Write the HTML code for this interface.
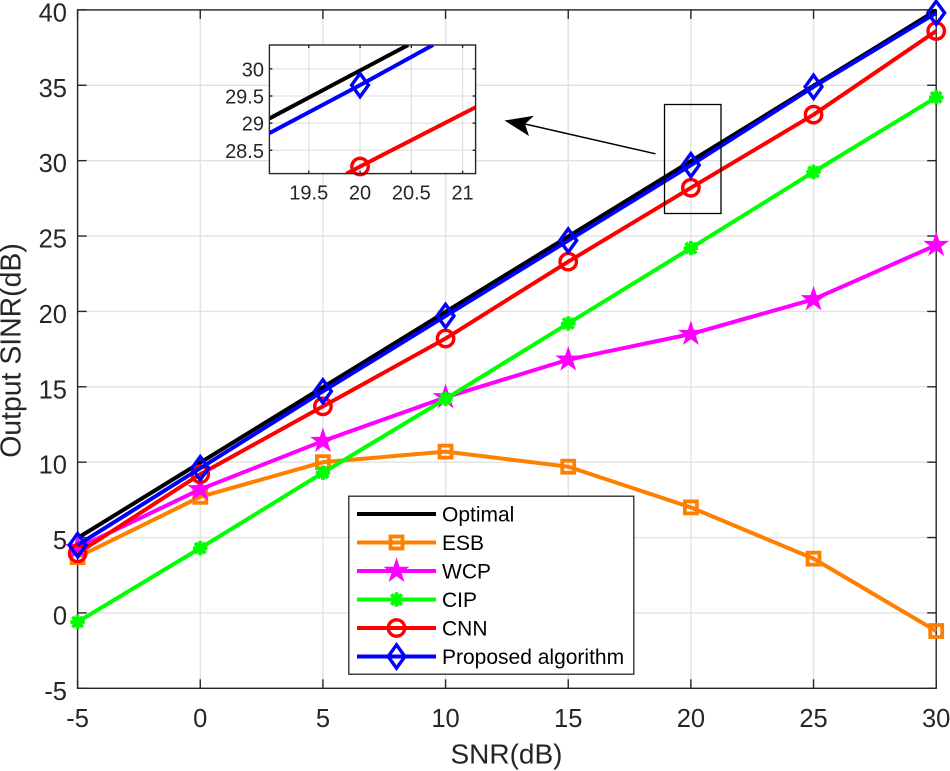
<!DOCTYPE html>
<html>
<head>
<meta charset="utf-8">
<title>Output SINR vs SNR</title>
<style>
html,body{margin:0;padding:0;background:#fff;width:950px;height:771px;overflow:hidden;}
svg{display:block;overflow:hidden;font-family:"Liberation Sans",sans-serif;}
</style>
</head>
<body>
<svg id="chart" width="950" height="771" viewBox="0 0 950 771" xmlns="http://www.w3.org/2000/svg"></svg>
<script>
const categories = [-5, 0, 5, 10, 15, 20, 25, 30];
const seriesNames = ['Optimal', 'ESB', 'WCP', 'CIP', 'CNN', 'Proposed algorithm'];
const optimalValues = [4.97, 9.97, 14.97, 19.97, 24.97, 29.97, 34.97, 39.97];
const esbValues = [3.7, 7.7, 10.0, 10.7, 9.7, 7.0, 3.6, -1.2];
const wcpValues = [4.3, 8.2, 11.4, 14.3, 16.8, 18.5, 20.8, 24.4];
const cipValues = [-0.6, 4.3, 9.3, 14.2, 19.2, 24.2, 29.25, 34.2];
const cnnValues = [3.95, 9.2, 13.7, 18.2, 23.3, 28.2, 33.05, 38.6];
const proposedValues = [4.5, 9.6, 14.7, 19.7, 24.7, 29.7, 34.9, 39.8];
const xTicks = ['-5', '0', '5', '10', '15', '20', '25', '30'];
const yTicks = ['-5', '0', '5', '10', '15', '20', '25', '30', '35', '40'];
const insetXTicks = ['19.5', '20', '20.5', '21'];
const insetYTicks = ['28.5', '29', '29.5', '30'];

const svg = document.getElementById('chart');
const NS = 'http://www.w3.org/2000/svg';
const INK = '#262626';
const GRID = '#e2e2e2';

function mk(tag, attrs, name, parent) {
  const el = document.createElementNS(NS, tag);
  for (const k in attrs) el.setAttribute(k, attrs[k]);
  
  
  (parent || svg).appendChild(el);
  return el;
}
function label(x, y, str, size, anchor, name, fill, parent) {
  const t = mk('text', {x: x, y: y, 'font-size': size, 'text-anchor': anchor, fill: fill || INK}, name, parent);
  t.textContent = str;
  return t;
}
function scale(d0, d1, r0, r1) {
  return v => r0 + (v - d0) * (r1 - r0) / (d1 - d0);
}

const L = 77.6, R = 936.2, T = 9.9, B = 688.3;
const sx = scale(-5, 30, L, R), sy = scale(-5, 40, B, T);
const IL = 269.4, IR = 475.6, IT = 45, IB = 173.6;
const ix = scale(19.116, 21.127, IL, IR), iy = scale(28.07, 30.44, IB, IT);

/* Liang-Barsky: trims a data segment to the inset window so no geometry extends outside it */
function clipToInset(x0, y0, x1, y1) {
  let t0 = 0, t1 = 1;
  const dx = x1 - x0, dy = y1 - y0;
  const tests = [[-dx, x0 - IL], [dx, IR - x0], [-dy, y0 - IT], [dy, IB - y0]];
  for (const [p, q] of tests) {
    if (p === 0) { if (q < 0) return null; continue; }
    const r = q / p;
    if (p < 0) { if (r > t1) return null; if (r > t0) t0 = r; }
    else { if (r < t0) return null; if (r < t1) t1 = r; }
  }
  return [x0 + t0 * dx, y0 + t0 * dy, x0 + t1 * dx, y0 + t1 * dy];
}

const styles = [
  {values: optimalValues, color: '#000000', marker: 'none', key: 'optimal'},
  {values: esbValues, color: '#ff8000', marker: 'square', key: 'esb'},
  {values: wcpValues, color: '#ff00ff', marker: 'star', key: 'wcp'},
  {values: cipValues, color: '#00ff00', marker: 'asterisk', key: 'cip'},
  {values: cnnValues, color: '#ff0000', marker: 'circle', key: 'cnn'},
  {values: proposedValues, color: '#0000ff', marker: 'diamond', key: 'proposed'}
];

function marker(kind, x, y, color, name, parent) {
  if (kind === 'square') {
    mk('rect', {x: x - 6, y: y - 6, width: 12, height: 12, fill: 'none', stroke: color, 'stroke-width': 3.8}, name, parent);
  } else if (kind === 'circle') {
    mk('circle', {cx: x, cy: y, r: 8.2, fill: 'none', stroke: color, 'stroke-width': 3.4}, name, parent);
  } else if (kind === 'diamond') {
    const w = 8.4, h = 11.6;
    mk('polygon', {points: [x, y - h, x + w, y, x, y + h, x - w, y].join(' '), fill: 'none', stroke: color, 'stroke-width': 3.4}, name, parent);
  } else if (kind === 'star') {
    const pts = [];
    for (let i = 0; i < 10; i++) {
      const r = i % 2 ? 5.2 : 13.6;
      const a = -Math.PI / 2 + i * Math.PI / 5;
      pts.push((x + r * Math.cos(a)).toFixed(2) + ',' + (y + r * Math.sin(a)).toFixed(2));
    }
    mk('polygon', {points: pts.join(' '), fill: color}, name, parent);
  } else if (kind === 'asterisk') {
    const r = 7.2, d = 5.2;
    const path = `M${x - r} ${y}H${x + r}M${x} ${y - r}V${y + r}M${x - d} ${y - d}L${x + d} ${y + d}M${x - d} ${y + d}L${x + d} ${y - d}`;
    mk('path', {d: path, fill: 'none', stroke: color, 'stroke-width': 3.8}, name, parent);
  }
}

/* main axes: grid */
const gridG = mk('g', {}, 'main-grid');
xTicks.forEach(t => {
  const x = sx(+t);
  mk('line', {x1: x, x2: x, y1: T, y2: B, stroke: GRID, 'stroke-width': 1.4}, 'x-gridline-' + t, gridG);
});
yTicks.forEach(t => {
  const y = sy(+t);
  mk('line', {x1: L, x2: R, y1: y, y2: y, stroke: GRID, 'stroke-width': 1.4}, 'y-gridline-' + t, gridG);
});

/* main axes: box, ticks, labels */
const axG = mk('g', {stroke: INK, 'stroke-width': 1.4, fill: 'none'}, 'main-axes');
mk('rect', {x: L, y: T, width: R - L, height: B - T}, 'plot-box', axG);
xTicks.forEach(t => {
  const x = sx(+t);
  mk('line', {x1: x, x2: x, y1: B, y2: B - 9}, 'x-tick-bottom-' + t, axG);
  mk('line', {x1: x, x2: x, y1: T, y2: T + 9}, 'x-tick-top-' + t, axG);
  label(x, 726.8, t, 25.5, 'middle', 'x-tick-label-' + t);
});
yTicks.forEach(t => {
  const y = sy(+t);
  mk('line', {x1: L, x2: L + 9, y1: y, y2: y}, 'y-tick-left-' + t, axG);
  mk('line', {x1: R, x2: R - 9, y1: y, y2: y}, 'y-tick-right-' + t, axG);
  label(67, y + 11.5, t, 25.5, 'end', 'y-tick-label-' + t);
});
label(506.5, 763.4, 'SNR(dB)', 28, 'middle', 'x-axis-title');
const yTitle = label(0, 0, 'Output SINR(dB)', 28.4, 'middle', 'y-axis-title');
yTitle.setAttribute('transform', 'translate(20.5 350.5) rotate(-90)');

/* main series */
styles.forEach(s => {
  const g = mk('g', {}, 'series-' + s.key);
  const pts = s.values.map((v, i) => sx(categories[i]).toFixed(2) + ',' + sy(v).toFixed(2)).join(' ');
  mk('polyline', {points: pts, fill: 'none', stroke: s.color, 'stroke-width': 4, 'stroke-linejoin': 'round'}, 'line-' + s.key, g);
  s.values.forEach((v, i) => marker(s.marker, sx(categories[i]), sy(v), s.color, 'point-' + s.key + '-' + categories[i], g));
});

/* zoom region rectangle and arrow */
mk('rect', {x: 664.5, y: 104.5, width: 56.5, height: 109, fill: 'none', stroke: '#000', 'stroke-width': 1.3}, 'zoom-region-box');
mk('line', {x1: 655.5, y1: 153.8, x2: 525, y2: 124, stroke: '#000', 'stroke-width': 1.5}, 'zoom-arrow-shaft');
mk('polygon', {points: '504.5,120.5 534,115.8 525,124 529,136', fill: '#000'}, 'zoom-arrow-head');

/* inset */
const defs = mk('defs', {}, 'inset-defs');
const clip = mk('clipPath', {id: 'insetClip'}, 'inset-clip', defs);
mk('rect', {x: IL, y: IT, width: IR - IL, height: IB - IT}, 'inset-clip-rect', clip);
const inset = mk('g', {}, 'inset-chart');
mk('rect', {x: IL, y: IT, width: IR - IL, height: IB - IT, fill: '#fff'}, 'inset-background', inset);
insetXTicks.forEach(t => {
  const x = ix(+t);
  mk('line', {x1: x, x2: x, y1: IT, y2: IB, stroke: GRID, 'stroke-width': 1.3}, 'inset-x-gridline-' + t, inset);
});
insetYTicks.forEach(t => {
  const y = iy(+t);
  mk('line', {x1: IL, x2: IR, y1: y, y2: y, stroke: GRID, 'stroke-width': 1.3}, 'inset-y-gridline-' + t, inset);
});
const insetAx = mk('g', {stroke: INK, 'stroke-width': 1.4, fill: 'none'}, 'inset-axes', inset);
insetXTicks.forEach(t => {
  const x = ix(+t);
  mk('line', {x1: x, x2: x, y1: IB, y2: IB - 3}, 'inset-x-tick-bottom-' + t, insetAx);
  mk('line', {x1: x, x2: x, y1: IT, y2: IT + 3}, 'inset-x-tick-top-' + t, insetAx);
  label(x, 199.5, t, 20, 'middle', 'inset-x-tick-label-' + t, INK, inset);
});
insetYTicks.forEach(t => {
  const y = iy(+t);
  mk('line', {x1: IL, x2: IL + 3, y1: y, y2: y}, 'inset-y-tick-left-' + t, insetAx);
  mk('line', {x1: IR, x2: IR - 3, y1: y, y2: y}, 'inset-y-tick-right-' + t, insetAx);
  label(264, y + 7.5, t, 20, 'end', 'inset-y-tick-label-' + t, INK, inset);
});
styles.filter(s => ['optimal', 'cnn', 'proposed'].includes(s.key)).forEach(s => {
  const g = mk('g', {}, 'inset-series-' + s.key, inset);
  let d = '';
  for (let i = 0; i + 1 < s.values.length; i++) {
    const seg = clipToInset(ix(categories[i]), iy(s.values[i]), ix(categories[i + 1]), iy(s.values[i + 1]));
    if (seg) d += `M${seg[0].toFixed(2)} ${seg[1].toFixed(2)}L${seg[2].toFixed(2)} ${seg[3].toFixed(2)}`;
  }
  mk('path', {d: d, fill: 'none', stroke: s.color, 'stroke-width': 4, 'clip-path': 'url(#insetClip)'}, 'inset-line-' + s.key, g);
  s.values.forEach((v, i) => {
    if (categories[i] === 20) marker(s.marker, ix(20), iy(v), s.color, 'inset-point-' + s.key, g);
  });
});
mk('rect', {x: IL, y: IT, width: IR - IL, height: IB - IT, fill: 'none', stroke: INK, 'stroke-width': 1.4}, 'inset-box', inset);

/* legend */
const legend = mk('g', {}, 'legend');
mk('rect', {x: 348.8, y: 496.2, width: 285, height: 178, fill: '#fff', stroke: INK, 'stroke-width': 1.3}, 'legend-box', legend);
const LEG_TOP = 514, LEG_STEP = 28.5;
styles.forEach((s, i) => {
  const y = LEG_TOP + i * LEG_STEP;
  const g = mk('g', {}, 'legend-entry-' + s.key, legend);
  mk('line', {x1: 357, x2: 436, y1: y, y2: y, stroke: s.color, 'stroke-width': 4}, 'legend-line-' + s.key, g);
  marker(s.marker, 396.5, y, s.color, 'legend-marker-' + s.key, g);
  label(442, y + 7.5, seriesNames[i], 21, 'start', 'legend-label-' + s.key, '#000', g);
});
</script>
</body>
</html>
